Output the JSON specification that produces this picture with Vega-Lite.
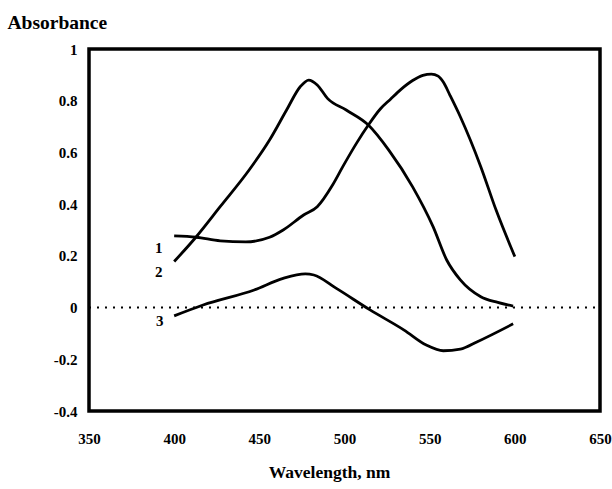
{
  "$schema": "https://vega.github.io/schema/vega-lite/v6.json",
  "width": 511,
  "height": 362,
  "autosize": "none",
  "padding": {"left": 89, "top": 49, "right": 12, "bottom": 78},
  "background": "white",
  "config": {
    "view": {"stroke": "black", "strokeWidth": 3.5},
    "axis": {"grid": false, "ticks": false, "domain": false, "labelFont": "Liberation Serif", "labelFontWeight": "bold", "labelColor": "black", "titleFont": "Liberation Serif", "titleColor": "black", "titleFontWeight": "bold"}
  },
  "datasets": {
    "curves": [
      {"series": "1", "nm": 400, "A": 0.277}, {"series": "1", "nm": 413, "A": 0.272}, {"series": "1", "nm": 427, "A": 0.258},
      {"series": "1", "nm": 442, "A": 0.254}, {"series": "1", "nm": 456, "A": 0.272}, {"series": "1", "nm": 464, "A": 0.3},
      {"series": "1", "nm": 476, "A": 0.358}, {"series": "1", "nm": 484, "A": 0.39}, {"series": "1", "nm": 493, "A": 0.474},
      {"series": "1", "nm": 499, "A": 0.545}, {"series": "1", "nm": 507, "A": 0.635}, {"series": "1", "nm": 514, "A": 0.706},
      {"series": "1", "nm": 521, "A": 0.768}, {"series": "1", "nm": 527, "A": 0.806}, {"series": "1", "nm": 533, "A": 0.843},
      {"series": "1", "nm": 540, "A": 0.878}, {"series": "1", "nm": 546, "A": 0.898}, {"series": "1", "nm": 551, "A": 0.903},
      {"series": "1", "nm": 555, "A": 0.895}, {"series": "1", "nm": 558, "A": 0.872}, {"series": "1", "nm": 562, "A": 0.82},
      {"series": "1", "nm": 568, "A": 0.738}, {"series": "1", "nm": 580, "A": 0.545},
      {"series": "1", "nm": 589, "A": 0.377}, {"series": "1", "nm": 600, "A": 0.197},
      {"series": "2", "nm": 400, "A": 0.178}, {"series": "2", "nm": 413, "A": 0.274}, {"series": "2", "nm": 427, "A": 0.39},
      {"series": "2", "nm": 444, "A": 0.532}, {"series": "2", "nm": 456, "A": 0.648}, {"series": "2", "nm": 466, "A": 0.764},
      {"series": "2", "nm": 474, "A": 0.854}, {"series": "2", "nm": 479, "A": 0.88}, {"series": "2", "nm": 484, "A": 0.861},
      {"series": "2", "nm": 490, "A": 0.809}, {"series": "2", "nm": 501, "A": 0.764}, {"series": "2", "nm": 514, "A": 0.706},
      {"series": "2", "nm": 526, "A": 0.609}, {"series": "2", "nm": 540, "A": 0.467}, {"series": "2", "nm": 552, "A": 0.313},
      {"series": "2", "nm": 560, "A": 0.184}, {"series": "2", "nm": 568, "A": 0.107}, {"series": "2", "nm": 580, "A": 0.042},
      {"series": "2", "nm": 590, "A": 0.02}, {"series": "2", "nm": 599, "A": 0.006},
      {"series": "3", "nm": 400, "A": -0.032}, {"series": "3", "nm": 417, "A": 0.01}, {"series": "3", "nm": 447, "A": 0.068},
      {"series": "3", "nm": 464, "A": 0.113}, {"series": "3", "nm": 477, "A": 0.13}, {"series": "3", "nm": 482, "A": 0.126},
      {"series": "3", "nm": 495, "A": 0.075}, {"series": "3", "nm": 515, "A": -0.009}, {"series": "3", "nm": 535, "A": -0.087},
      {"series": "3", "nm": 548, "A": -0.145}, {"series": "3", "nm": 558, "A": -0.167}, {"series": "3", "nm": 568, "A": -0.161},
      {"series": "3", "nm": 578, "A": -0.132}, {"series": "3", "nm": 599, "A": -0.063}
    ],
    "zero": [{"nm": 350, "A": 0}, {"nm": 650, "A": 0}],
    "labels": [
      {"nm": 391, "A": 0.23, "lab": "1"},
      {"nm": 391, "A": 0.138, "lab": "2"},
      {"nm": 391.5, "A": -0.052, "lab": "3"}
    ]
  },
  "encoding": {
    "x": {
      "field": "nm", "type": "quantitative",
      "scale": {"domain": [350, 650], "nice": false, "zero": false},
      "axis": {"values": [350, 400, 450, 500, 550, 600, 650], "labelFontSize": 15, "labelPadding": 20, "labelFlush": false,
               "title": "Wavelength, nm", "titleFontSize": 17.5, "titleBaseline": "alphabetic", "titleY": 66, "titleX": 240}
    },
    "y": {
      "field": "A", "type": "quantitative",
      "scale": {"domain": [-0.4, 1], "nice": false, "zero": false},
      "axis": {"values": [-0.4, -0.2, 0, 0.2, 0.4, 0.6, 0.8, 1], "labelExpr": "toString(round(datum.value*10)/10)",
               "labelFontSize": 15, "labelPadding": 12, "labelFlush": false,
               "title": "Absorbance", "titleAngle": 0, "titleAlign": "left", "titleBaseline": "alphabetic",
               "titleX": -82, "titleY": -21, "titleFontSize": 19.5}
    }
  },
  "layer": [
    {
      "data": {"name": "zero"},
      "mark": {"type": "line", "color": "black", "strokeWidth": 2, "strokeDash": [2, 6]}
    },
    {
      "data": {"name": "curves"},
      "mark": {"type": "line", "color": "black", "strokeWidth": 2.8, "interpolate": "monotone"},
      "encoding": {"detail": {"field": "series"}}
    },
    {
      "data": {"name": "labels"},
      "mark": {"type": "text", "font": "Liberation Serif", "fontWeight": "bold", "fontSize": 15, "color": "black"},
      "encoding": {"text": {"field": "lab"}}
    }
  ]
}
